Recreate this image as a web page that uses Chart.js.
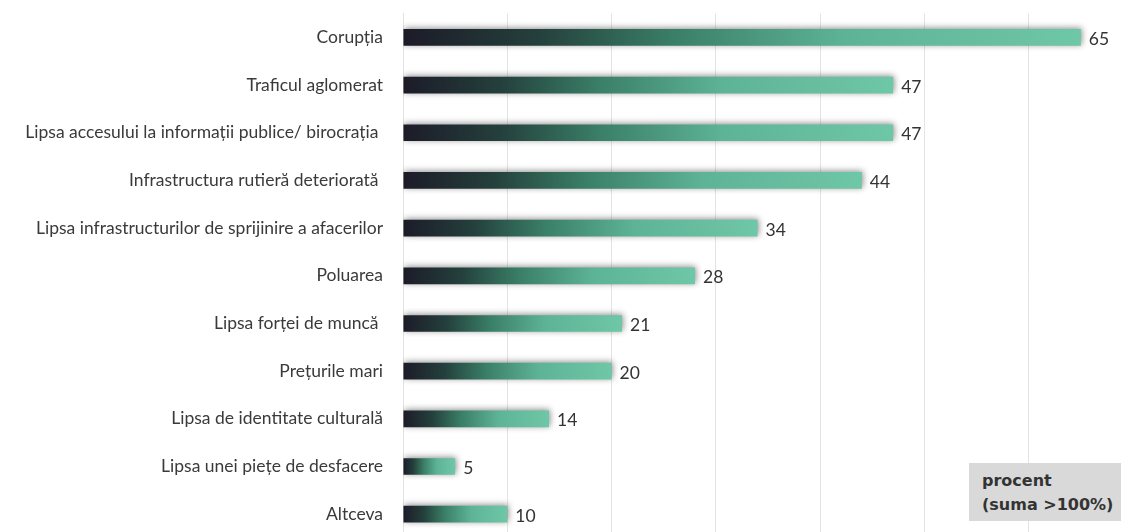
<!DOCTYPE html>
<html>
<head>
<meta charset="utf-8">
<script src="https://cdn.jsdelivr.net/npm/chart.js@4.4.0/dist/chart.umd.min.js"></script>
<style>
  html, body { margin: 0; padding: 0; background: #fff; overflow: hidden; }
  #wrap { position: absolute; left: 0; top: 0; width: 1140px; height: 540px; }
  #note {
    position: absolute; left: 969px; top: 463px; width: 160px; height: 58px;
    background: #d9d9d9; box-sizing: border-box; padding: 6px 0 0 13px;
    font-family: "DejaVu Sans", sans-serif; font-weight: bold; font-size: 16px;
    line-height: 24px; color: #333;
  }
</style>
</head>
<body>
<div id="wrap">
  <canvas id="chart" width="1140" height="540"></canvas>
  <div id="note">procent<br>(suma &gt;100%)</div>
</div>
<script>
// categories and values (percent, sum > 100%)
const categories = [
  'Corupția',
  'Traficul aglomerat',
  'Lipsa accesului la informații publice/ birocrația ',
  'Infrastructura rutieră deteriorată ',
  'Lipsa infrastructurilor de sprijinire a afacerilor',
  'Poluarea',
  'Lipsa forței de muncă ',
  'Prețurile mari',
  'Lipsa de identitate culturală',
  'Lipsa unei piețe de desfacere',
  'Altceva'
];
const values = [65, 47, 47, 44, 34, 28, 21, 20, 14, 5, 10];
const xTicks = [0, 10, 20, 30, 40, 50, 60, 70];

function barGradient(context) {
  const chart = context.chart;
  const x = chart.scales.x;
  if (!chart.chartArea || !x || context.type !== 'data') return '#6cc3a4';
  const x0 = x.getPixelForValue(0);
  const x1 = x.getPixelForValue(values[context.dataIndex]);
  const g = chart.ctx.createLinearGradient(x0, 0, x1, 0);
  g.addColorStop(0, '#1c1b28');
  g.addColorStop(0.2, '#24403c');
  g.addColorStop(0.4, '#3a7f67');
  g.addColorStop(0.65, '#5db396');
  g.addColorStop(1, '#6ec7a7');
  return g;
}

// soft shadow around the bars
const barShadow = {
  id: 'barShadow',
  beforeDatasetsDraw(chart) {
    const ctx = chart.ctx;
    ctx.save();
    ctx.shadowColor = 'rgba(0,0,0,0.45)';
    ctx.shadowBlur = 6;
    ctx.shadowOffsetX = 1;
    ctx.shadowOffsetY = -1;
  },
  afterDatasetsDraw(chart) {
    chart.ctx.restore();
  }
};

// value labels at the end of each bar
const valueLabels = {
  id: 'valueLabels',
  afterDatasetsDraw(chart) {
    const ctx = chart.ctx;
    const meta = chart.getDatasetMeta(0);
    ctx.save();
    ctx.font = '17.5px Lato, sans-serif';
    ctx.fillStyle = '#333';
    ctx.textAlign = 'left';
    ctx.textBaseline = 'middle';
    meta.data.forEach((bar, i) => {
      ctx.fillText(values[i], bar.x + 8, bar.y + 2);
    });
    ctx.restore();
  }
};

new Chart(document.getElementById('chart'), {
  type: 'bar',
  data: {
    labels: categories,
    datasets: [{
      data: values,
      backgroundColor: barGradient,
      borderWidth: 0,
      barPercentage: 0.7,
      categoryPercentage: 0.5
    }]
  },
  options: {
    indexAxis: 'y',
    responsive: false,
    animation: false,
    layout: { padding: { top: 13.6, bottom: 2, right: 7, left: 0 } },
    plugins: {
      legend: { display: false },
      tooltip: { enabled: false }
    },
    scales: {
      x: {
        min: 0,
        max: 70,
        afterBuildTicks: scale => { scale.ticks = xTicks.map(v => ({ value: v })); },
        afterFit: scale => { scale.height = 0; },
        ticks: { display: false },
        grid: { color: '#e3e3e3', lineWidth: 1, drawTicks: false },
        border: { display: false }
      },
      y: {
        afterFit: scale => {
          scale.width = 403;
          // tick padding would otherwise push the plot area in
          scale.paddingTop = 0;
          scale.paddingBottom = 0;
        },
        ticks: {
          color: '#3a3a3a',
          padding: 20,
          font: { family: 'Lato, sans-serif', size: 17.5 }
        },
        grid: { display: false, drawTicks: false },
        border: { display: true, color: '#e3e3e3' }
      }
    }
  },
  plugins: [barShadow, valueLabels]
});
</script>
</body>
</html>
